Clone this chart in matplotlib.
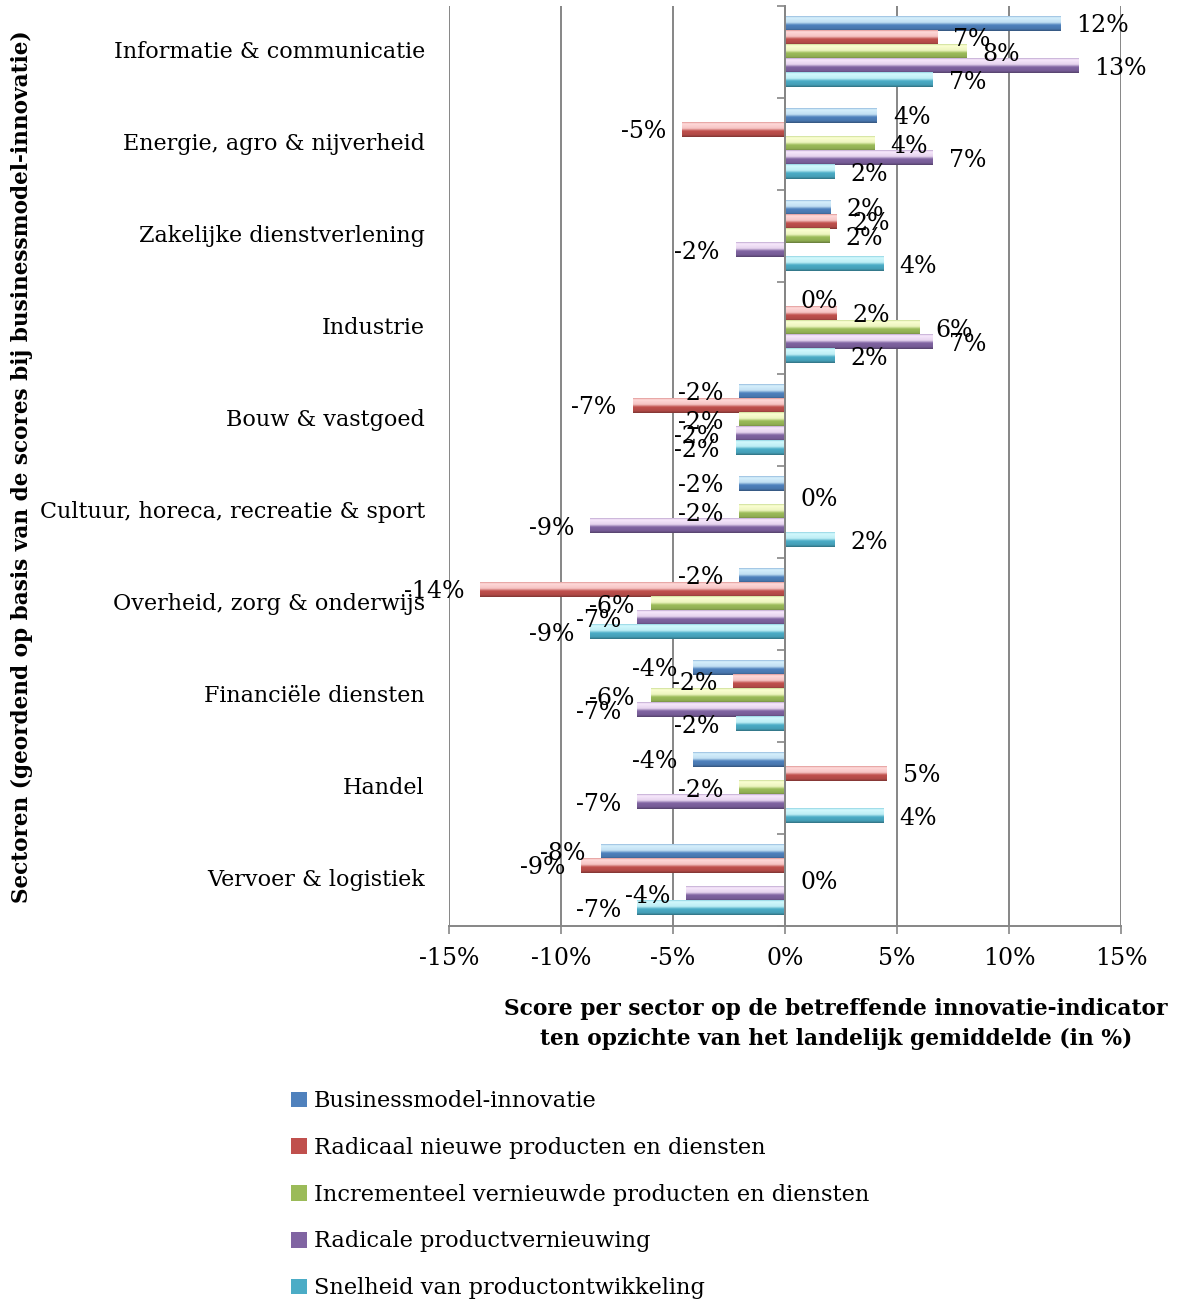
import numpy as np
import matplotlib
matplotlib.use("Agg")
import matplotlib.pyplot as plt
from matplotlib.colors import LinearSegmentedColormap, to_rgb
from matplotlib.patches import Patch
from matplotlib.transforms import blended_transform_factory

# sectors, top to bottom
sectors = [
    "Informatie & communicatie",
    "Energie, agro & nijverheid",
    "Zakelijke dienstverlening",
    "Industrie",
    "Bouw & vastgoed",
    "Cultuur, horeca, recreatie & sport",
    "Overheid, zorg & onderwijs",
    "Financiële diensten",
    "Handel",
    "Vervoer & logistiek",
]

series_names = [
    "Businessmodel-innovatie",
    "Radicaal nieuwe producten en diensten",
    "Incrementeel vernieuwde producten en diensten",
    "Radicale productvernieuwing",
    "Snelheid van productontwikkeling",
]

# score vs national average (%), one list per indicator, in sector order
businessmodel = [12.3, 4.1, 2.05, 0.0, -2.05, -2.05, -2.05, -4.1, -4.1, -8.2]
radicaal_nieuw = [6.8, -4.6, 2.3, 2.3, -6.8, 0.0, -13.6, -2.3, 4.55, -9.1]
incrementeel = [8.1, 4.0, 2.0, 6.0, -2.05, -2.05, -6.0, -6.0, -2.05, 0.0]
radicale_vernieuwing = [13.1, 6.6, -2.2, 6.6, -2.2, -8.7, -6.6, -6.6, -6.6, -4.4]
snelheid = [6.6, 2.2, 4.4, 2.2, -2.2, 2.2, -8.7, -2.2, 4.4, -6.6]

series = [businessmodel, radicaal_nieuw, incrementeel, radicale_vernieuwing, snelheid]
colors = ["#4F81BD", "#C0504D", "#9BBB59", "#8064A2", "#4BACC6"]
# highlight tint of the bevel, per series
highlights = ["#d6f0fc", "#ffd9d9", "#fbffd2", "#f8e8fc", "#d2f9fd"]

x_ticks = [-15, -10, -5, 0, 5, 10, 15]

plt.rcParams["font.family"] = "DejaVu Serif"
LBL = 17


def bevel_cmap(c, hi):
    base = np.array(to_rgb(c))
    hi = np.array(to_rgb(hi))
    return LinearSegmentedColormap.from_list("bevel", [
        (0.00, base * 0.5 + hi * 0.5),
        (0.10, hi),
        (0.42, hi * 0.85 + base * 0.15),
        (0.60, base),
        (0.86, base * 0.92),
        (1.00, base * 0.65),
    ])


fig = plt.figure(figsize=(11.82, 13.03), dpi=100)
ax = fig.add_axes([449 / 1182, 1 - 926 / 1303, 672 / 1182, 920 / 1303])

n = len(sectors)
y = np.arange(n)
h = 0.154
grad = np.linspace(0, 1, 64).reshape(-1, 1)

for j, (vals, col, hi) in enumerate(zip(series, colors, highlights)):
    offs = y + (j - 2) * h
    bars = ax.barh(offs, vals, height=h, color=col, edgecolor="none", zorder=3)
    cmap = bevel_cmap(col, hi)
    for b in bars:
        w = b.get_width()
        if w == 0:
            continue
        x0, y0, bh = b.get_x(), b.get_y(), b.get_height()
        ax.imshow(grad, cmap=cmap, aspect="auto", origin="upper",
                  extent=(x0, x0 + w, y0 + bh, y0), zorder=4, interpolation="bilinear")
    for v, yy in zip(vals, offs):
        txt = f"{v:.0f}%"
        if v < 0:
            ax.annotate(txt, (v, yy), xytext=(-11.5, -1.5), textcoords="offset points",
                        ha="right", va="center", fontsize=LBL, zorder=6)
        else:
            ax.annotate(txt, (v, yy), xytext=(11.5, -1.5), textcoords="offset points",
                        ha="left", va="center", fontsize=LBL, zorder=6)

ax.set_xlim(-15, 15)
ax.set_ylim(n - 0.5, -0.5)

ax.set_xticks(x_ticks)
ax.set_xticklabels([f"{t}%" for t in x_ticks], fontsize=LBL)
ax.xaxis.grid(True, color="#868686", lw=1.4, zorder=0)
ax.set_axisbelow(True)
ax.tick_params(axis="x", direction="out", length=6, width=1.2, color="#868686", pad=9)

ax.set_yticks(np.arange(-0.5, n, 1.0))
ax.set_yticklabels([])
ax.tick_params(axis="y", direction="out", length=6, width=1.2, color="#868686")

for s in ["top", "right"]:
    ax.spines[s].set_visible(False)
ax.spines["left"].set_position(("data", 0))
for s in ["left", "bottom"]:
    ax.spines[s].set_color("#868686")
    ax.spines[s].set_linewidth(1.4)
ax.spines["left"].set_zorder(5)

tr = blended_transform_factory(ax.transAxes, ax.transData)
for yy, name in zip(y, sectors):
    ax.text(-0.036, yy, name, transform=tr, ha="right", va="center", fontsize=16.0)

fig.text(22 / 1182, 1 - 467 / 1303,
         "Sectoren (geordend op basis van de scores bij businessmodel-innovatie)",
         rotation=90, ha="center", va="center", fontsize=15.6, fontweight="bold")
fig.text(836 / 1182, 1 - 1024 / 1303,
         "Score per sector op de betreffende innovatie-indicator\n"
         "ten opzichte van het landelijk gemiddelde (in %)",
         ha="center", va="center", fontsize=15.7, fontweight="bold", linespacing=1.45)

handles = [Patch(facecolor=c, edgecolor="none") for c in colors]
fig.legend(handles, series_names, loc="upper left",
           bbox_to_anchor=(280 / 1182, 1 - 1079 / 1303), frameon=False,
           fontsize=16.2, handlelength=0.7, handleheight=0.7, handletextpad=0.3,
           labelspacing=1.1, borderpad=0)

fig.savefig("out.png", dpi=100)
